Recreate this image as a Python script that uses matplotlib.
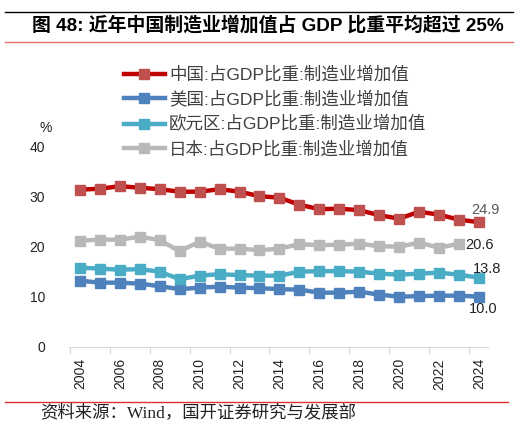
import matplotlib
matplotlib.use("Agg")
import matplotlib.pyplot as plt
from matplotlib.lines import Line2D

# data (% of GDP, manufacturing value added)
years = list(range(2004, 2025))
china = [31.4, 31.6, 32.1, 31.8, 31.5, 31.0, 31.0, 31.5, 31.0, 30.1, 29.8,
         28.4, 27.5, 27.6, 27.3, 26.3, 25.6, 27.0, 26.4, 25.4, 24.9]
usa = [13.2, 12.8, 12.8, 12.6, 12.1, 11.5, 11.8, 12.0, 11.8, 11.7, 11.5,
       11.4, 10.8, 10.8, 11.0, 10.4, 10.0, 10.1, 10.2, 10.2, 10.0]
euro = [15.8, 15.6, 15.4, 15.5, 15.0, 13.5, 14.2, 14.5, 14.3, 14.2, 14.2,
        15.0, 15.1, 15.1, 15.0, 14.6, 14.4, 14.6, 14.8, 14.4, 13.8]
japan_years = years[:-1]
japan = [21.2, 21.4, 21.4, 22.0, 21.3, 19.1, 21.0, 19.6, 19.6, 19.3, 19.6,
         20.5, 20.3, 20.4, 20.6, 20.1, 20.0, 20.8, 19.8, 20.6]

labels = [
    "中国:占GDP比重:制造业增加值",
    "美国:占GDP比重:制造业增加值",
    "欧元区:占GDP比重:制造业增加值",
    "日本:占GDP比重:制造业增加值",
]
end_labels = ["24.9", "10.0", "13.8", "20.6"]

plt.rcParams["font.family"] = ["Liberation Sans", "Noto Sans CJK SC", "DejaVu Sans"]

fig = plt.figure(figsize=(5.18, 4.29), dpi=100)
ax = fig.add_axes([0.133, 0.192, 0.809, 0.466])

# (line colour, marker colour)
styles = [
    ("#C00000", "#C0504D"),
    ("#4F81BD", "#4F81BD"),
    ("#4BACC6", "#4BACC6"),
    ("#B8B8B8", "#B8B8B8"),
]
series = [(years, china), (years, usa), (years, euro), (japan_years, japan)]

handles = []
for (xs, ys), (lc, mc), lab in zip(series, styles, labels):
    ax.plot(xs, ys, color=lc, lw=3.2, marker="s", ms=7.8,
            markerfacecolor=mc, markeredgecolor=mc, zorder=3)
    handles.append(Line2D([], [], color=lc, lw=3.2, marker="s", ms=7.8,
                          markerfacecolor=mc, markeredgecolor=mc, label=lab))

# end-point value labels
ax.text(2023.6, 27.4, end_labels[0], fontsize=10.5, color="#595959", va="center")
ax.text(2023.3, 20.4, end_labels[3], fontsize=10.5, color="#222222", va="center")
ax.text(2023.7, 15.5, end_labels[2], fontsize=10.5, color="#222222", va="center")
ax.text(2023.5, 7.5, end_labels[1], fontsize=10.5, color="#222222", va="center")

ax.set_xlim(2003.45, 2024.45)
ax.set_ylim(0, 40)
ax.set_yticks([0, 10, 20, 30, 40])
ax.set_xticks([y + 0.5 for y in range(2003, 2024, 2)])
ax.set_xticklabels([])
for y in years[::2]:
    ax.text(y, -2.3, str(y), rotation=90, ha="center", va="top", fontsize=10,
            color="#222222")

for s in ["top", "right", "left"]:
    ax.spines[s].set_visible(False)
ax.spines["bottom"].set_color("#D9D9D9")
ax.tick_params(axis="x", length=5, color="#D9D9D9", direction="out")
ax.tick_params(axis="y", length=0, labelsize=10, labelcolor="#222222", pad=17)

fig.text(0.088, 0.701, "%", fontsize=10, ha="center", va="center", color="#222222")

leg = fig.legend(handles=handles, loc="upper left", bbox_to_anchor=(0.24, 0.846),
                 frameon=False, fontsize=12.6, handlelength=2.3,
                 handletextpad=0.25, labelspacing=0.46, borderpad=0,
                 borderaxespad=0)
for t in leg.get_texts():
    t.set_color("#404040")

# title block (kept just inside the right edge)
fig.add_artist(Line2D([0.01, 0.99], [0.973, 0.973], color="black", lw=1.0))
fig.text(0.062, 0.941, "图 48: 近年中国制造业增加值占 GDP 比重平均超过 25%",
         fontsize=13.6, fontweight="bold", va="center", ha="left")
fig.add_artist(Line2D([0.01, 0.99], [0.901, 0.901], color="#E07070", lw=1.0))

# source
fig.add_artist(Line2D([0.01, 0.98], [0.064, 0.064], color="#E03030", lw=1.0))
fig.text(0.077, 0.038, "资料来源：Wind，国开证券研究与发展部", fontsize=12.5,
         va="center", ha="left", color="#222222",
         family=["Liberation Serif", "Noto Sans CJK SC"])

fig.savefig("out.png", dpi=100)
